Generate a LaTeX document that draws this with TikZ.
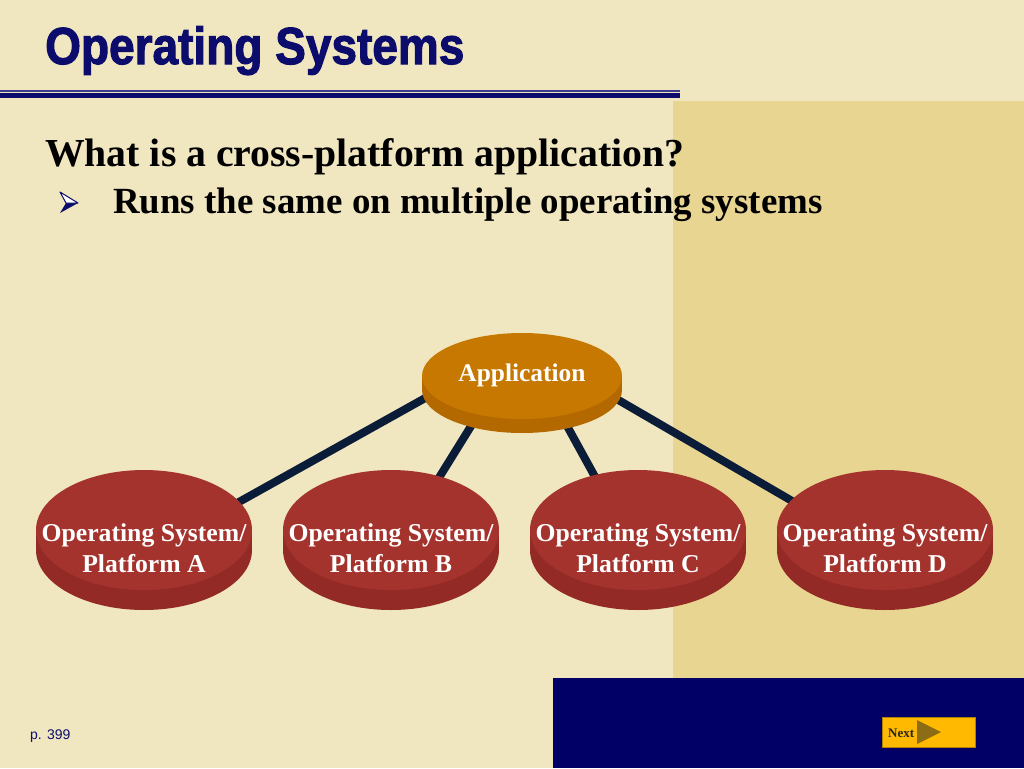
\documentclass[tikz,border=0pt]{standalone}
\usepackage{graphicx}
\usepackage{fontspec}
\setmainfont{Liberation Serif}
\newfontfamily\sansf{Liberation Sans}
\newfontfamily\titlef{Liberation Sans}[BoldFeatures={FakeBold=2.2}]
\usetikzlibrary{shapes.geometric,calc}
\definecolor{bgcream}{RGB}{240,230,192}
\definecolor{panel}{RGB}{232,213,146}
\definecolor{navyrect}{RGB}{0,0,102}
\definecolor{titlenavy}{RGB}{12,12,108}
\definecolor{thinline}{RGB}{60,60,140}
\definecolor{conn}{RGB}{10,28,56}
\definecolor{appface}{RGB}{198,120,0}
\definecolor{appside}{RGB}{180,104,0}
\definecolor{osface}{RGB}{165,51,45}
\definecolor{osside}{RGB}{148,42,38}
\definecolor{nextor}{RGB}{255,185,0}
\definecolor{nexttri}{RGB}{140,108,20}
\pgfdeclarelayer{back}
\pgfdeclarelayer{lines}
\pgfsetlayers{back,lines,main}
\tikzset{
  osfacestyle/.style={ellipse, fill=osface, minimum width=216pt, minimum height=120pt, inner sep=0pt},
  appfacestyle/.style={ellipse, fill=appface, minimum width=200pt, minimum height=86pt, inner sep=0pt},
  ostext/.style={align=center, text=white, font=\bfseries\fontsize{25.7}{31}\selectfont, inner sep=0pt},
  conn/.style={draw=conn, line width=8pt},
}
\begin{document}
\begin{tikzpicture}[x=1pt,y=-1pt]
\useasboundingbox (0,0) rectangle (1024,768);
\begin{pgfonlayer}{back}
  \fill[bgcream] (0,0) rectangle (1024,768);
  \fill[panel] (673,101) rectangle (1024,768);
  \fill[navyrect] (553,678) rectangle (1024,768);
  \fill[thinline] (0,89.5) rectangle (680,91.5);
  \fill[titlenavy] (0,93) rectangle (680,97.5);
\end{pgfonlayer}
% title and text
\node[anchor=base west, inner sep=0pt, text=titlenavy, font=\titlef\bfseries\fontsize{50}{60}\selectfont] (title) at (45,64) {\scalebox{0.92}[1.04]{Operating Systems}};
\node[anchor=base west, inner sep=0pt, font=\bfseries\fontsize{39.7}{46}\selectfont] (q) at (45,166) {What is a cross-platform application?};
\node[anchor=base west, inner sep=0pt, font=\bfseries\fontsize{36.9}{44}\selectfont] (b1) at (113,213) {Runs the same on multiple operating systems};
% bullet arrowhead
\fill[titlenavy] (60,213) -- (78,203) -- (66,203) -- cycle;
\filldraw[fill=white, draw=titlenavy, line width=1pt, line join=round] (60,192) -- (78,203) -- (66,203) -- cycle;
% application node
\fill[appside] (522,390) ellipse [x radius=100, y radius=43];
\fill[appside] (422,376) rectangle (622,390);
\node[appfacestyle] (app) at (522,376) {};
\node[inner sep=0pt, text=white, font=\bfseries\fontsize{25.4}{30}\selectfont] (appt) at (522,375) {Application};
% OS nodes
\foreach \cx/\nm in {144/A, 391/B, 638/C, 885/D} {
  \fill[osside] (\cx,550) ellipse [x radius=108, y radius=60];
  \fill[osside] (\cx-108,530) rectangle (\cx+108,550);
  \node[osfacestyle] (os\nm) at (\cx,530) {};
  \node[ostext] (t\nm) at (\cx,548) {Operating System/\\Platform \nm};
}
% connectors
\begin{pgfonlayer}{lines}
\foreach \nm in {A,B,C,D} {
  \draw[conn] ($(app.center)+(0,-32)$) -- ($(os\nm.center)+(0,25)$);
}
\end{pgfonlayer}
% page number
\node[anchor=base west, inner sep=0pt, text=titlenavy, font=\sansf\fontsize{14}{16}\selectfont] (pg) at (30,739) {p. 399};
% next button
\node[rectangle, fill=nextor, draw=nextor!70!black, line width=0.5pt, minimum width=93pt, minimum height=30pt, inner sep=0pt] (next) at (928.5,732) {};
\fill[nexttri] (917,720) -- (941,732) -- (917,744) -- cycle;
\node[anchor=base west, inner sep=0pt, text=black!85, font=\bfseries\fontsize{13}{15}\selectfont] (nextt) at (888,737) {Next};
\end{tikzpicture}
\end{document}
